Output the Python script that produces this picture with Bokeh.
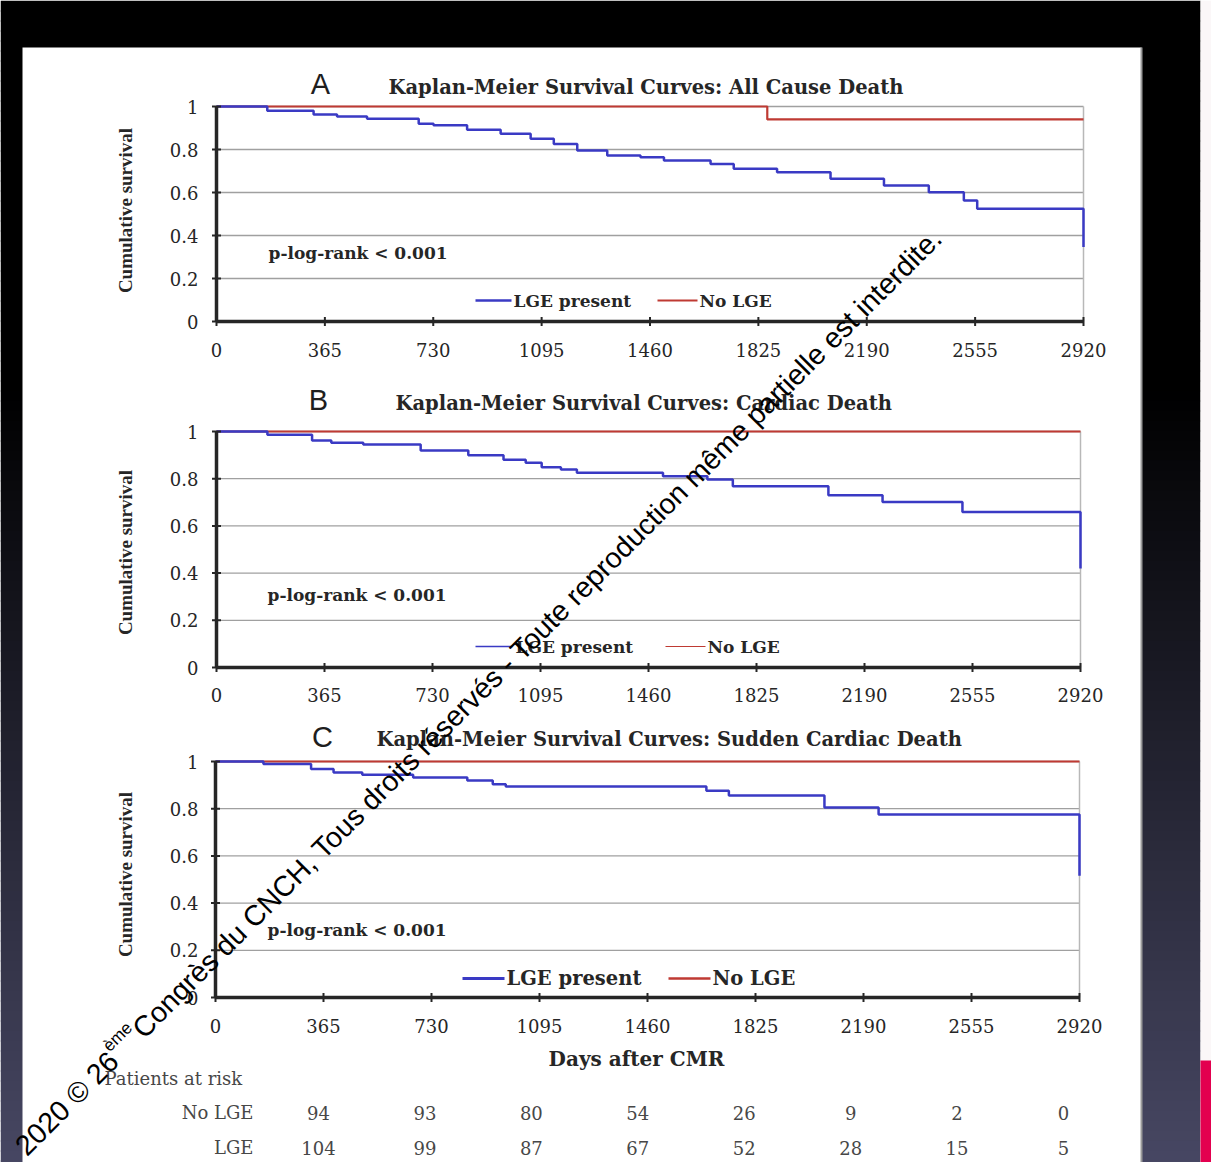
import numpy as np
from bokeh.plotting import figure
from bokeh.models import Range1d
from bokeh.core.properties import value
from bokeh.embed import file_html
from bokeh.resources import INLINE

# ---------------- data ----------------
day_ticks = [0, 365, 730, 1095, 1460, 1825, 2190, 2555, 2920]
day_tick_labels = ["0", "365", "730", "1095", "1460", "1825", "2190", "2555", "2920"]
surv_ticks = [0.0, 0.2, 0.4, 0.6, 0.8, 1.0]
surv_tick_labels = ["0", "0.2", "0.4", "0.6", "0.8", "1"]

# Panel A: all cause death
a_lge_days = [0, 171, 327, 406, 507, 681, 731, 844, 957, 1058, 1136, 1215, 1316, 1428,
              1507, 1664, 1742, 1888, 2068, 2248, 2399, 2517, 2562, 2920]
a_lge_surv = [1.0, 0.98, 0.963, 0.953, 0.943, 0.92, 0.913, 0.892, 0.873, 0.85, 0.826, 0.795,
              0.772, 0.764, 0.749, 0.733, 0.71, 0.694, 0.664, 0.633, 0.601, 0.563, 0.524, 0.346]
a_nolge_days = [0, 1855, 2920]
a_nolge_surv = [1.0, 0.94, 0.94]

# Panel B: cardiac death
b_lge_days = [0, 172, 323, 388, 496, 690, 851, 970, 1045, 1099, 1164, 1218, 1509, 1659,
              1745, 2068, 2251, 2521, 2920]
b_lge_surv = [1.0, 0.986, 0.962, 0.952, 0.945, 0.92, 0.899, 0.88, 0.868, 0.849, 0.839, 0.825,
              0.81, 0.797, 0.768, 0.73, 0.701, 0.659, 0.42]
b_nolge_days = [0, 2920]
b_nolge_surv = [1.0, 1.0]

# Panel C: sudden cardiac death
c_lge_days = [0, 162, 323, 399, 496, 668, 851, 937, 981, 1659, 1735, 2058, 2241, 2920]
c_lge_surv = [1.0, 0.989, 0.968, 0.953, 0.944, 0.932, 0.92, 0.904, 0.894, 0.876, 0.856,
              0.805, 0.775, 0.516]
c_nolge_days = [0, 2920]
c_nolge_surv = [1.0, 1.0]

# Patients at risk
risk_days = [365, 730, 1095, 1460, 1825, 2190, 2555, 2920]
risk_no_lge = [94, 93, 80, 54, 26, 9, 2, 0]
risk_lge = [104, 99, 87, 67, 52, 28, 15, 5]

titles = ["Kaplan-Meier Survival Curves: All Cause Death",
          "Kaplan-Meier Survival Curves: Cardiac Death",
          "Kaplan-Meier Survival Curves: Sudden Cardiac Death"]
letters = ["A", "B", "C"]

# ---------------- layout ----------------
OX, OY = 0, 0            # reference pixel of canvas origin
W, H = 1211, 1162
SERIF = value("DejaVu Serif")
TIMES = value("Liberation Serif")
SANS = value("Liberation Sans")
BOLD = value("bold")
BLUE = "#3a3ac4"
RED = "#bf3a33"
TXT = "#262626"

p = figure(width=W, height=H, x_range=Range1d(OX, OX + W), y_range=Range1d(OY + H, OY),
           min_border=0, toolbar_location=None, output_backend="svg",
           x_axis_type=None, y_axis_type=None)
p.outline_line_color = None
p.background_fill_color = "white"
p.border_fill_color = "white"

# slide background: vertical gradient black -> navy
ys = np.arange(0, 1170, 10)
cols = []
for yv in ys:
    f = min(max((yv - 380) / (1162 - 380), 0.0), 1.0)
    r = int(0 + f * 72); g = int(0 + f * 72); b = int(0 + f * 100)
    cols.append("#%02x%02x%02x" % (r, g, b))
p.quad(left=[0] * len(ys), right=[1200] * len(ys), top=list(ys), bottom=list(ys + 11),
       fill_color=cols, line_color=None)
p.quad(left=[1200], right=[1215], top=[0], bottom=[1170], fill_color="#fbf7f8", line_color=None)
p.quad(left=[1200], right=[1215], top=[1060], bottom=[1170], fill_color="#e3004f", line_color=None)
# white sheet
p.quad(left=[22], right=[1141], top=[47], bottom=[1170], fill_color="white", line_color=None)
p.segment(x0=[1141], y0=[47], x1=[1141], y1=[1170], line_color="#9a9a9a", line_width=2)

panels = [
    dict(name="A", px0=216, px1=1083, ptop=106, pbot=321, tick_y=349,
         lge=(a_lge_days, a_lge_surv), nolge=(a_nolge_days, a_nolge_surv),
         letter_xy=(320, 83), title_xy=(388, 87), ylab_y=210, ptxt_xy=(268, 252),
         leg_y=300, leg=(475, 511, 513, 657, 697, 699), leg_fs="17px", leg_w=2.5),
    dict(name="B", px0=216, px1=1080, ptop=431, pbot=667, tick_y=694,
         lge=(b_lge_days, b_lge_surv), nolge=(b_nolge_days, b_nolge_surv),
         letter_xy=(318, 399), title_xy=(395, 403), ylab_y=552, ptxt_xy=(267, 594),
         leg_y=646, leg=(475, 512, 515, 665, 705, 707), leg_fs="17px", leg_w=1.5),
    dict(name="C", px0=215, px1=1079, ptop=761, pbot=997, tick_y=1025,
         lge=(c_lge_days, c_lge_surv), nolge=(c_nolge_days, c_nolge_surv),
         letter_xy=(322, 736), title_xy=(376, 739), ylab_y=874, ptxt_xy=(267, 929),
         leg_y=978, leg=(462, 504, 506, 668, 710, 712), leg_fs="19.5px", leg_w=3),
]

xr, yr = {}, {}
for pn in panels:
    kx = (pn["px1"] - pn["px0"]) / day_ticks[-1]
    xr[pn["name"]] = Range1d((OX - pn["px0"]) / kx, (OX + W - pn["px0"]) / kx)
    ky = pn["pbot"] - pn["ptop"]
    yr[pn["name"]] = Range1d((pn["pbot"] - (OY + H)) / ky, (pn["pbot"] - OY) / ky)
# table scale: first risk column at 318 px, last at 1063 px
kt = (1063 - 318) / (risk_days[-1] - risk_days[0])
xr["T"] = Range1d(risk_days[0] + (OX - 318) / kt, risk_days[0] + (OX + W - 318) / kt)
p.extra_x_ranges = xr
p.extra_y_ranges = yr

for i, pn in enumerate(panels):
    n = pn["name"]
    kw = dict(x_range_name=n, y_range_name=n)
    xmax = day_ticks[-1]
    # horizontal gridlines
    gl = surv_ticks[1:]
    p.segment(x0=[0] * len(gl), x1=[xmax] * len(gl), y0=gl, y1=gl,
              line_color="#a0a0a0", line_width=1.3, **kw)
    # right border
    p.segment(x0=[xmax], x1=[xmax], y0=[0], y1=[1], line_color="#b8b8b8", line_width=1.5, **kw)
    # curves
    p.step(x=pn["nolge"][0], y=pn["nolge"][1], mode="after", line_color=RED, line_width=2.2, **kw)
    p.step(x=pn["lge"][0], y=pn["lge"][1], mode="after", line_color=BLUE, line_width=2.5, **kw)
    # axes
    p.segment(x0=[0], x1=[0], y0=[0], y1=[1], line_color="#262626", line_width=3.5, **kw)
    p.segment(x0=[0], x1=[xmax], y0=[0], y1=[0], line_color="#262626", line_width=3.5, **kw)
    p.scatter(x=[0] * len(surv_ticks), y=surv_ticks, marker="dash", size=9,
              line_color="#262626", line_width=2, **kw)
    p.scatter(x=day_ticks, y=[0] * len(day_ticks), marker="dash", angle=np.pi / 2, size=9,
              line_color="#262626", line_width=2, **kw)
    # tick labels
    p.text(x=[198] * len(surv_ticks), y=surv_ticks, text=surv_tick_labels,
           y_range_name=n, text_align="right", text_baseline="middle",
           text_font=SERIF, text_font_size="18px", text_color=TXT)
    p.text(x=day_ticks, y=[pn["tick_y"]] * len(day_ticks), text=day_tick_labels,
           x_range_name=n, text_align="center", text_baseline="middle",
           text_font=SERIF, text_font_size="18px", text_color=TXT)
    # letter and title
    p.text(x=[pn["letter_xy"][0]], y=[pn["letter_xy"][1]], text=[letters[i]],
           text_align="center", text_baseline="middle", text_font=SANS,
           text_font_size="29px", text_color="#1e1e1e")
    p.text(x=[pn["title_xy"][0]], y=[pn["title_xy"][1]], text=[titles[i]],
           text_align="left", text_baseline="middle", text_font=SERIF, text_font_style=BOLD,
           text_font_size="19.5px", text_color=TXT)
    # y axis label
    p.text(x=[125], y=[pn["ylab_y"]], text=["Cumulative survival"], angle=np.pi / 2,
           text_align="center", text_baseline="middle", text_font=TIMES, text_font_style=BOLD,
           text_font_size="19px", text_color=TXT)
    # p value
    p.text(x=[pn["ptxt_xy"][0]], y=[pn["ptxt_xy"][1]], text=["p-log-rank < 0.001"],
           text_align="left", text_baseline="middle", text_font=SERIF, text_font_style=BOLD,
           text_font_size="17px", text_color=TXT)
    # legend
    l0, l1, lt, r0, r1, rt = pn["leg"]
    ly = pn["leg_y"]
    p.segment(x0=[l0], x1=[l1], y0=[ly], y1=[ly], line_color=BLUE, line_width=pn["leg_w"])
    p.segment(x0=[r0], x1=[r1], y0=[ly], y1=[ly], line_color=RED, line_width=pn["leg_w"] * 0.8)
    p.text(x=[lt, rt], y=[ly, ly], text=["LGE present", "No LGE"], text_align="left",
           text_baseline="middle", text_font=SERIF, text_font_style=BOLD,
           text_font_size=pn["leg_fs"], text_color=TXT)

# x axis title
p.text(x=[636], y=[1058], text=["Days after CMR"], text_align="center", text_baseline="middle",
       text_font=SERIF, text_font_style=BOLD, text_font_size="20px", text_color=TXT)

# patients at risk table
TGRAY = "#474747"
TFS = "18px"
p.text(x=[104], y=[1078], text=["Patients at risk"], text_align="left", text_baseline="middle",
       text_font=SERIF, text_font_size=TFS, text_color=TGRAY)
p.text(x=[253, 253], y=[1112, 1147], text=["No LGE", "LGE"], text_align="right",
       text_baseline="middle", text_font=SERIF, text_font_size=TFS, text_color=TGRAY)
p.text(x=risk_days, y=[1112] * len(risk_days), text=[str(v) for v in risk_no_lge],
       x_range_name="T", text_align="center", text_baseline="middle",
       text_font=SERIF, text_font_size=TFS, text_color=TGRAY)
p.text(x=risk_days, y=[1147] * len(risk_days), text=[str(v) for v in risk_lge],
       x_range_name="T", text_align="center", text_baseline="middle",
       text_font=SERIF, text_font_size=TFS, text_color=TGRAY)

# copyright watermark (diagonal)
fs = 28.6
th = np.deg2rad(45.0)
d = np.array([np.cos(th), -np.sin(th)])
up = np.array([-np.sin(th), -np.cos(th)])
S = np.array([6.0, 1163.0]) + 19.0 * d
w1 = 4.629 * fs
w2 = 1.167 * fs
P2 = S + w1 * d + 0.40 * fs * up
P3 = S + (w1 + w2) * d
p.text(x=[S[0]], y=[S[1]], text=["2020 © 26"], angle=th, text_align="left",
       text_baseline="alphabetic", text_font=SANS, text_font_size="%.1fpx" % fs, text_color="black")
p.text(x=[P2[0]], y=[P2[1]], text=["ème"], angle=th, text_align="left",
       text_baseline="alphabetic", text_font=SANS, text_font_size="%.1fpx" % (fs * 0.6),
       text_color="black")
p.text(x=[P3[0]], y=[P3[1]],
       text=[" Congrès du CNCH, Tous droits réservés - Toute reproduction même partielle est interdite."],
       angle=th, text_align="left", text_baseline="alphabetic", text_font=SANS,
       text_font_size="%.1fpx" % fs, text_color="black")

open("out.html", "w").write(file_html(p, INLINE))
